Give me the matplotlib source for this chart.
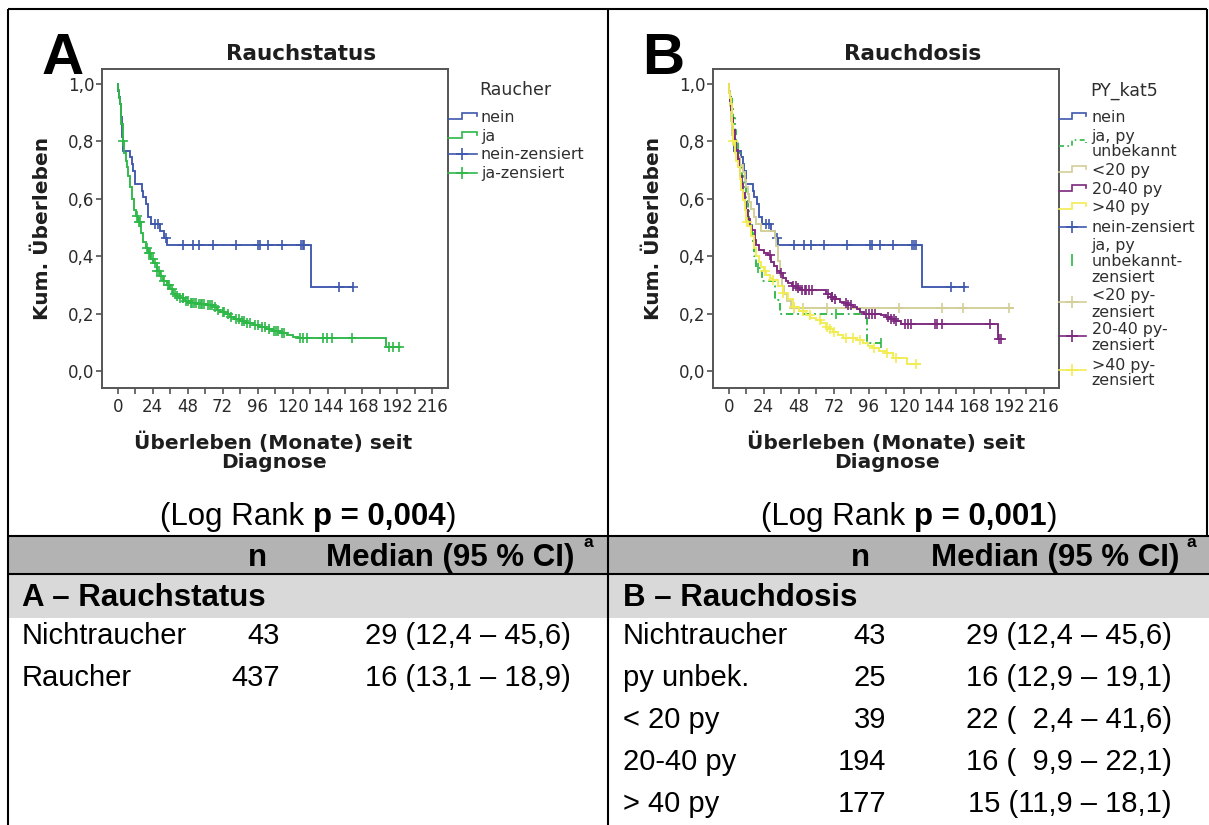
import numpy as np
import matplotlib
matplotlib.use("Agg")
import matplotlib.pyplot as plt
from matplotlib.patches import Rectangle
from matplotlib.ticker import MultipleLocator, FuncFormatter

# ---------------- Kaplan-Meier data (months, cumulative survival) ----------------
# Panel A / B: non-smokers ("nein")
nein_t = [0, 0.5, 1, 1.5, 2, 2.5, 3, 3.4, 8.5, 9.5, 10.5, 12, 16.5, 17.5, 19.5, 21, 23, 29, 31.5, 34, 132.7]
nein_s = [1.0, 0.977, 0.953, 0.930, 0.907, 0.884, 0.814, 0.767, 0.744, 0.721, 0.698, 0.651, 0.628,
          0.605, 0.581, 0.535, 0.512, 0.488, 0.463, 0.439, 0.293]
nein_end = 161.8
nein_cens = [25.6, 27.9, 33.2, 44.6, 51.5, 56.1, 65.2, 81.2, 96.6, 98.0, 103.4, 112.6, 125.9, 127.0,
             128.1, 152.2, 161.3]

# Panel A: smokers ("ja")
ja_t = [0, 0.5, 1, 1.6, 2.5, 3.4, 4.5, 5.5, 6.2, 7.3, 8.5, 10, 11.4, 12.8, 14.2, 16, 17.6, 19.3, 21,
        22.8, 24.5, 26.8, 29, 31.3, 33.6, 36, 38.2, 40.5, 42.8, 46, 49.7, 55, 61, 65.7, 68, 70.3, 74,
        77, 80, 84, 88, 93, 97, 102, 106, 111.4, 116, 120.6, 124, 184.2]
ja_s = [1.0, 0.98, 0.95, 0.93, 0.86, 0.80, 0.76, 0.73, 0.71, 0.68, 0.64, 0.60, 0.56, 0.54, 0.52,
        0.48, 0.45, 0.43, 0.41, 0.39, 0.375, 0.35, 0.33, 0.315, 0.30, 0.285, 0.27, 0.26, 0.253,
        0.245, 0.236, 0.232, 0.23, 0.222, 0.214, 0.207, 0.198, 0.19, 0.183, 0.175, 0.168, 0.16,
        0.153, 0.145, 0.138, 0.131, 0.125, 0.12, 0.114, 0.085]
ja_end = 193.8
ja_cens = [3.4, 13.5, 14.5, 15.2, 19.8, 21.5, 22.2, 24, 25.5, 27, 28, 30, 32, 34.5, 35.5, 37, 39, 41,
           43, 44.5, 45, 47, 48, 50, 51, 52.5, 53.5, 55.5, 57, 58, 59.5, 62, 63.5, 64.5, 66.5, 69,
           72, 73, 76, 78, 81, 83, 85, 86.5, 89, 91, 94, 96, 99, 101, 104, 107, 108.5, 110, 113,
           114, 125.2, 127.5, 129.7, 141.2, 143.5, 146.9, 160.6, 186.5, 189.2, 193.4]

# Panel B: smokers, pack-years unknown
unbek_t = [0, 0.5, 2, 3, 4, 5, 6.5, 8, 9, 10.5, 12, 13, 14, 16, 16.8, 17.5, 18.5, 22.5, 32, 35, 94.5]
unbek_s = [1.0, 0.96, 0.92, 0.88, 0.84, 0.80, 0.76, 0.72, 0.68, 0.64, 0.60, 0.56, 0.52, 0.48, 0.44,
           0.40, 0.36, 0.313, 0.247, 0.197, 0.099]
unbek_end = 104
unbek_cens = [20, 73.7, 104]

# Panel B: < 20 pack-years
lt20_t = [0, 0.3, 0.6, 1, 1.3, 1.6, 2, 2.3, 2.6, 4, 6, 8, 9.5, 11, 12, 13, 14, 15.5, 17, 18.5, 22,
          31.5, 32.5, 33.5, 35, 36.5, 38, 40, 42.5]
lt20_s = [1.0, 0.974, 0.949, 0.923, 0.897, 0.872, 0.846, 0.821, 0.795, 0.769, 0.744, 0.718, 0.692,
          0.667, 0.641, 0.615, 0.590, 0.564, 0.538, 0.513, 0.487, 0.462, 0.436, 0.385, 0.333,
          0.295, 0.269, 0.244, 0.218]
lt20_end = 195
lt20_cens = [44.8, 51, 67, 116.5, 146.4, 160.6, 192.2]

# Panel B: 20-40 pack-years
mid_t = [0, 0.5, 1, 1.5, 2, 3, 4, 5, 6, 7, 8, 9, 10, 11, 12, 13, 14.3, 16, 17.7, 19, 21, 24, 27, 29,
         31, 33, 35, 37, 39, 40.7, 43, 46.4, 49, 66.8, 70, 72, 76, 79, 82, 85, 88, 90, 92.4, 104,
         108, 111, 114, 117.7, 184.2]
mid_s = [1.0, 0.97, 0.94, 0.91, 0.88, 0.84, 0.80, 0.77, 0.74, 0.71, 0.68, 0.65, 0.62, 0.59, 0.56,
         0.53, 0.505, 0.49, 0.456, 0.44, 0.42, 0.41, 0.404, 0.38, 0.365, 0.35, 0.34, 0.325, 0.315,
         0.305, 0.295, 0.288, 0.282, 0.27, 0.259, 0.25, 0.24, 0.236, 0.23, 0.224, 0.215, 0.207,
         0.20, 0.195, 0.19, 0.183, 0.175, 0.164, 0.110]
mid_end = 187
mid_cens = [28, 35.9, 44, 46, 47.5, 50, 52, 53, 55, 57, 68, 70.5, 71, 73, 80, 82, 84, 94, 96, 98,
            100, 109, 111.5, 113, 114.5, 120.6, 122.9, 125.2, 141.2, 142.8, 145.8, 179, 185.5,
            186.5]

# Panel B: > 40 pack-years
gt40_t = [0, 0.5, 1, 1.6, 2.2, 2.8, 4, 5, 6.2, 7.5, 8.5, 9.7, 11, 12, 13.5, 15, 17, 18.9, 20.5,
          22.3, 24, 25.7, 28, 30.2, 33.5, 37, 40.5, 43.9, 48, 53, 56, 60, 63, 66.8, 69, 71.4, 75,
          78.3, 87.5, 92, 95.5, 98.9, 103, 108, 112.7, 121.8]
gt40_s = [1.0, 0.97, 0.95, 0.93, 0.86, 0.80, 0.76, 0.73, 0.71, 0.67, 0.63, 0.596, 0.56, 0.52, 0.505,
          0.47, 0.43, 0.40, 0.38, 0.364, 0.35, 0.334, 0.325, 0.317, 0.295, 0.271, 0.25, 0.224,
          0.21, 0.195, 0.186, 0.178, 0.168, 0.155, 0.146, 0.137, 0.125, 0.114, 0.108, 0.097,
          0.088, 0.079, 0.07, 0.062, 0.044, 0.025]
gt40_end = 130.9
gt40_cens = [2.9, 12.5, 24.5, 30.5, 37.5, 44.5, 50.8, 55.4, 62.2, 67.5, 69.5, 72, 80.5, 85.1, 89.7,
             99.5, 108.5, 114.9, 128.6]

# ---------------- table contents ----------------
p_values = ["0,004", "0,001"]
tab_a_labels = ["Nichtraucher", "Raucher"]
tab_a_n = [43, 437]
tab_a_median = ["29 (12,4 \u2013 45,6)", "16 (13,1 \u2013 18,9)"]
tab_b_labels = ["Nichtraucher", "py unbek.", "< 20 py", "20-40 py", "> 40 py"]
tab_b_n = [43, 25, 39, 194, 177]
tab_b_median = ["29 (12,4 \u2013 45,6)", "16 (12,9 \u2013 19,1)", "22 (  2,4 \u2013 41,6)",
                "16 (  9,9 \u2013 22,1)", "15 (11,9 \u2013 18,1)"]

legend_a = ["nein", "ja", "nein-zensiert", "ja-zensiert"]
legend_b = ["nein", "ja, py\nunbekannt", "<20 py", "20-40 py", ">40 py", "nein-zensiert",
            "ja, py\nunbekannt-\nzensiert", "<20 py-\nzensiert", "20-40 py-\nzensiert",
            ">40 py-\nzensiert"]

# ---------------- style ----------------
BLUE, GREEN, KHAKI, PURPLE, YELLOW = "#3E58AC", "#2EB848", "#D3CE97", "#7C287D", "#F2EC52"
CF = "DejaVu Sans"
TF = "Liberation Sans"
W, H = 1209, 825

fig = plt.figure(figsize=(W / 100, H / 100), dpi=100)
fig.patch.set_facecolor("white")


def px_axes(left, top, right, bottom):
    return fig.add_axes([left / W, 1 - bottom / H, (right - left) / W, (bottom - top) / H])


def style_km(ax):
    ax.set_xlim(-11, 226.5)
    ax.set_ylim(-0.059, 1.051)
    ax.xaxis.set_major_locator(MultipleLocator(24))
    ax.xaxis.set_minor_locator(MultipleLocator(12))
    ax.yaxis.set_major_locator(MultipleLocator(0.2))
    ax.yaxis.set_major_formatter(FuncFormatter(lambda v, p: f"{v:.1f}".replace(".", ",")))
    ax.xaxis.set_major_formatter(FuncFormatter(lambda v, p: f"{v:.0f}"))
    for sp in ax.spines.values():
        sp.set_color("#555555")
        sp.set_linewidth(1.4)
    ax.tick_params(which="both", direction="out", length=4.3, width=1.1, color="#444444",
                   top=False, right=False)
    ax.tick_params(axis="y", labelsize=12, labelcolor="#2a2a2a", pad=1)
    ax.tick_params(axis="x", labelsize=12, labelcolor="#2a2a2a", pad=3)
    for lab in ax.get_xticklabels() + ax.get_yticklabels():
        lab.set_family(CF)


def km(ax, t, s, end, cens, color, ls="-", cmark="+"):
    t = np.asarray(t, float)
    s = np.asarray(s, float)
    ax.step(np.append(t, end), np.append(s, s[-1]), where="post", color=color, lw=1.35, ls=ls,
            solid_joinstyle="miter")
    c = np.asarray(cens, float)
    idx = np.searchsorted(t, c, side="right") - 1
    ax.plot(c, s[idx], ls="none", marker=cmark, color=color, ms=7, mew=1.2)


axA = px_axes(101.7, 69.3, 447.7, 388)
axB = px_axes(712.7, 69.3, 1059.3, 388)
for ax in (axA, axB):
    style_km(ax)

km(axA, nein_t, nein_s, nein_end, nein_cens, BLUE)
km(axA, ja_t, ja_s, ja_end, ja_cens, GREEN)

km(axB, nein_t, nein_s, nein_end, nein_cens, BLUE)
km(axB, unbek_t, unbek_s, unbek_end, unbek_cens, GREEN, ls=(0, (4, 2, 1, 2)), cmark="|")
km(axB, lt20_t, lt20_s, lt20_end, lt20_cens, KHAKI)
km(axB, mid_t, mid_s, mid_end, mid_cens, PURPLE)
km(axB, gt40_t, gt40_s, gt40_end, gt40_cens, YELLOW)

# ---------------- overlay in pixel coordinates ----------------
ov = fig.add_axes([0, 0, 1, 1], zorder=10)
ov.set_xlim(0, W)
ov.set_ylim(H, 0)
ov.axis("off")
ov.patch.set_alpha(0)

# table bands
ov.add_patch(Rectangle((7.5, 535.5), W - 7.5, 38, fc="#b3b3b3", ec="none"))
ov.add_patch(Rectangle((7.5, 573.5), W - 7.5, 44, fc="#d9d9d9", ec="none"))

# frame lines
blk = dict(color="black", lw=1.5, solid_capstyle="butt", clip_on=False)
ov.plot([7.5, 1207], [8.5, 8.5], **blk)
ov.plot([7.5, 7.5], [8.5, H], **blk)
ov.plot([1207, 1207], [8.5, 535.5], **blk)
ov.plot([608, 608], [8.5, H], **blk)
ov.plot([7.5, W], [535.5, 535.5], **blk)
ov.plot([7.5, W], [573.5, 573.5], **blk)

# panel letters, titles, axis labels
for x0, letter, title, title_x, ylab_x, xlab_x in [
        (42, "A", "Rauchstatus", 301, 48.3, 273.5),
        (642, "B", "Rauchdosis", 913, 659.3, 886.5)]:
    ov.text(x0, 74, letter, family=TF, fontweight="bold", fontsize=42, ha="left", va="baseline")
    ov.text(title_x, 60, title, family=CF, fontweight="bold", fontsize=15.5,
            ha="center", va="baseline", color="#1e1e1e")
    ov.text(ylab_x, 228.5, "Kum. \u00dcberleben", family=CF, fontweight="bold", fontsize=14.5,
            rotation=90, rotation_mode="anchor", ha="center", va="baseline", color="#1e1e1e")
    ov.text(xlab_x, 448.5, "\u00dcberleben (Monate) seit", family=CF, fontweight="bold",
            fontsize=14.5, ha="center", va="baseline", color="#1e1e1e")
    ov.text(xlab_x, 468.5, "Diagnose", family=CF, fontweight="bold", fontsize=14.5,
            ha="center", va="baseline", color="#1e1e1e")


# legends
def step_handle(x0, w, yc, color, ls="-"):
    ov.plot([x0, x0 + 0.5 * w, x0 + 0.5 * w, x0 + w, x0 + w],
            [yc + 1.8, yc + 1.8, yc - 4.2, yc - 4.2, yc - 1], color=color, lw=1.2, ls=ls,
            solid_joinstyle="miter")


def cens_handle(x0, w, yc, color, line=True, mark="+"):
    if line:
        ov.plot([x0, x0 + w], [yc, yc], color=color, lw=1.2)
    ov.plot([x0 + w / 2], [yc], marker=mark, ms=8, mew=1.2, color=color, ls="none")


LEG = dict(family=CF, fontsize=11.4, color="#2e2e2e", ha="left", va="baseline")

ov.text(479.5, 95, "Raucher", family=CF, fontsize=12.5, color="#2e2e2e", ha="left", va="baseline")
ya = [116.7, 136, 154, 173.3]
step_handle(447.5, 29, ya[0], BLUE)
step_handle(447.5, 29, ya[1], GREEN)
cens_handle(447.5, 29, ya[2], BLUE)
cens_handle(447.5, 29, ya[3], GREEN)
for y, lab in zip(ya, legend_a):
    ov.text(481, y + 5, lab, **LEG)

ov.text(1090, 95.5, "PY_kat5", family=CF, fontsize=12.5, color="#2e2e2e", ha="left",
        va="baseline")
line_y = [[116.7], [136, 150.7], [170], [189.3], [207.3], [226.7], [245.3, 261, 276.7],
          [295, 311.7], [329.3, 345.3], [365, 380]]
handle_y = [116.7, 144, 170, 189.3, 207.3, 226.7, 260, 301.7, 336, 370]
step_handle(1058.5, 27, handle_y[0], BLUE)
step_handle(1058.5, 27, handle_y[1], GREEN, ls=(0, (3, 2, 1, 2)))
step_handle(1058.5, 27, handle_y[2], KHAKI)
step_handle(1058.5, 27, handle_y[3], PURPLE)
step_handle(1058.5, 27, handle_y[4], YELLOW)
cens_handle(1058.5, 27, handle_y[5], BLUE)
cens_handle(1058.5, 27, handle_y[6], GREEN, line=False, mark="|")
cens_handle(1058.5, 27, handle_y[7], KHAKI)
cens_handle(1058.5, 27, handle_y[8], PURPLE)
cens_handle(1058.5, 27, handle_y[9], YELLOW)
for ys, lab in zip(line_y, legend_b):
    for y, part in zip(ys, lab.split("\n")):
        ov.text(1091.5, y + 5, part, **LEG)

# log-rank lines with bold p-value
renderer = fig.canvas.get_renderer()


def mixed_line(xc, y, parts, size):
    arts, widths = [], []
    for s, wgt in parts:
        t = ov.text(0, y, s, family=TF, fontsize=size, fontweight=wgt, ha="left", va="baseline")
        arts.append(t)
        widths.append(t.get_window_extent(renderer).width)
    gap = 0.278 * size * 100 / 72
    total = sum(widths) + gap
    x = xc - total / 2
    for i, (t, w) in enumerate(zip(arts, widths)):
        t.set_x(x)
        x += w + (gap if i == 0 else 0)


for xc, p in zip([308, 909], p_values):
    mixed_line(xc, 525, [("(Log Rank", "normal"), ("p = " + p, "bold"), (")", "normal")], 22.5)

# table header
for n_x, med_r, sup_x in [(257, 574.4, 588), (860, 1179.6, 1191)]:
    ov.text(n_x, 566, "n", family=TF, fontsize=22.5, fontweight="bold", ha="center",
            va="baseline")
    ov.text(med_r, 566, "Median (95 % CI)", family=TF, fontsize=22.5, fontweight="bold",
            ha="right", va="baseline")
    ov.text(sup_x, 547, "a", family=TF, fontsize=12.5, fontweight="bold", ha="center",
            va="baseline")

ov.text(22, 606, "A \u2013 Rauchstatus", family=TF, fontsize=22.5, fontweight="bold", ha="left",
        va="baseline")
ov.text(623, 606, "B \u2013 Rauchdosis", family=TF, fontsize=22.5, fontweight="bold", ha="left",
        va="baseline")

row_base = [644, 686, 728, 770, 812]
ROW = dict(family=TF, fontsize=21, va="baseline")
for y, lab, n, med in zip(row_base, tab_a_labels, tab_a_n, tab_a_median):
    ov.text(22, y, lab, ha="left", **ROW)
    ov.text(280, y, str(n), ha="right", **ROW)
    ov.text(571, y, med, ha="right", **ROW)
for y, lab, n, med in zip(row_base, tab_b_labels, tab_b_n, tab_b_median):
    ov.text(623, y, lab, ha="left", **ROW)
    ov.text(886, y, str(n), ha="right", **ROW)
    ov.text(1172, y, med, ha="right", **ROW)

fig.savefig("out.png", dpi=100, facecolor="white")
